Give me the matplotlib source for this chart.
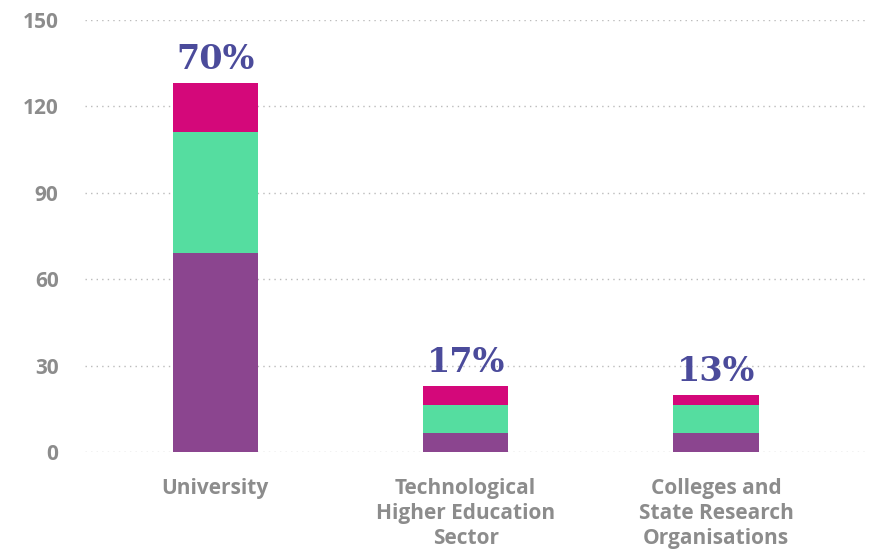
import matplotlib.pyplot as plt
import numpy as np

# 数据
categories = ["University", "Technological\nHigher Education\nSector", "Colleges and\nState Research\nOrganisations"]
purple_vals = [69, 6.5, 6.5]
green_vals = [42, 9.8, 9.8]
pink_vals = [17, 6.6, 3.5]
pct_labels = ["70%", "17%", "13%"]
y_ticks = [0, 30, 60, 90, 120, 150]

c_purple = "#8B458F"
c_green = "#55DDA0"
c_pink = "#D4087A"
c_text = "#4B4B9B"
c_tick = "#8C8C8C"

fig = plt.figure(figsize=(8.72, 5.53), dpi=100)
ax = fig.add_axes([85 / 872, 101 / 553, 780 / 872, 432 / 553])

x = np.arange(len(categories))
w = 0.34
purple = np.array(purple_vals)
green = np.array(green_vals)
pink = np.array(pink_vals)
ax.bar(x, purple, w, color=c_purple, zorder=2)
ax.bar(x, green, w, bottom=purple, color=c_green, zorder=2)
ax.bar(x, pink, w, bottom=purple + green, color=c_pink, zorder=2)

totals = purple + green + pink
for xi, t, lab in zip(x, totals, pct_labels):
    ax.text(xi, t + 2.5, lab, ha="center", va="bottom", fontsize=24,
            family="DejaVu Serif", fontweight="bold", color=c_text)

ax.set_xlim(-0.52, 2.595)
ax.set_ylim(0, 150)
ax.set_yticks(y_ticks)
ax.set_xticks(x)
ax.set_xticklabels(categories, fontsize=15, fontweight="bold", color=c_tick,
                   family="Open Sans", linespacing=1.25)
ax.set_yticklabels([str(v) for v in y_ticks], fontsize=15, fontweight="bold",
                   color=c_tick, family="Open Sans")
ax.tick_params(axis="y", length=0, pad=19)
ax.tick_params(axis="x", length=0, pad=19)
ax.grid(axis="y", linestyle=(0, (1, 3)), color="#BBBBBB", linewidth=1, zorder=0)
for s in ax.spines.values():
    s.set_visible(False)

fig.savefig("out.png", dpi=100)
